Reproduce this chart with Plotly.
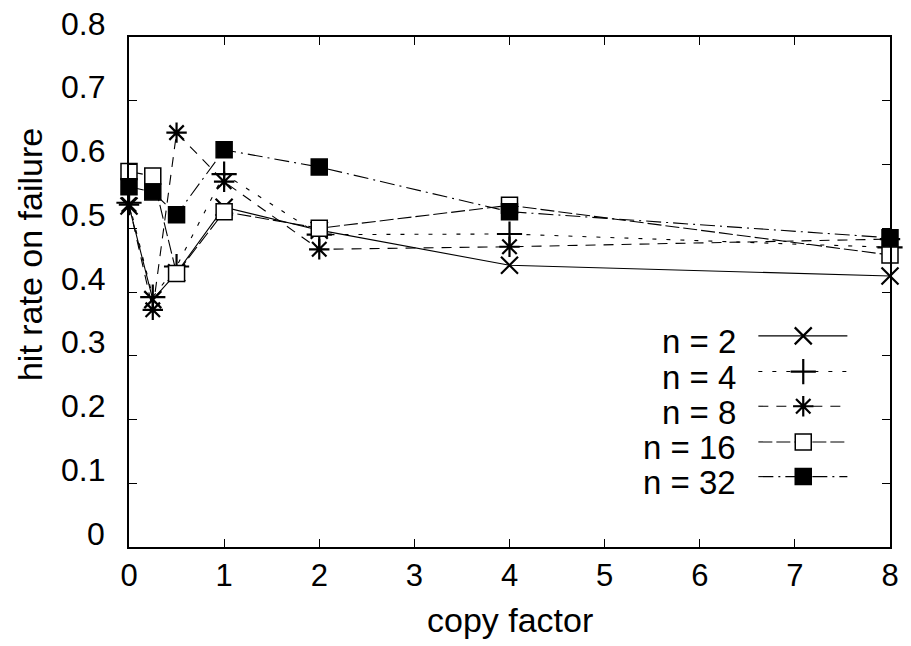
import plotly.graph_objects as go

# copy factor values at which the hit rate was measured
copy_factor = [0, 0.25, 0.5, 1, 2, 4, 8]

# hit rate on failure for each number of nodes n
hit_n2 = [0.535, 0.388, 0.430, 0.533, 0.497, 0.442, 0.425]
hit_n4 = [0.540, 0.392, 0.440, 0.585, 0.490, 0.491, 0.470]
hit_n8 = [0.537, 0.372, 0.650, 0.573, 0.467, 0.471, 0.483]
hit_n16 = [0.589, 0.582, 0.429, 0.526, 0.500, 0.536, 0.458]
hit_n32 = [0.565, 0.557, 0.521, 0.623, 0.596, 0.526, 0.485]

series_names = ["n = 2", "n = 4", "n = 8", "n = 16", "n = 32"]
series_values = [hit_n2, hit_n4, hit_n8, hit_n16, hit_n32]

x_ticks = [0, 1, 2, 3, 4, 5, 6, 7, 8]
y_ticks = [0, 0.1, 0.2, 0.3, 0.4, 0.5, 0.6, 0.7, 0.8]
y_tick_text = ["0", "0.1", "0.2", "0.3", "0.4", "0.5", "0.6", "0.7", "0.8"]

FONT = "Liberation Sans, Arial, sans-serif"

styles = [
    dict(dash="solid", symbol="x-thin", fill="black", mline=2.2, size=17),
    dict(dash="4px,10px", symbol="cross-thin", fill="black", mline=2.2, size=18),
    dict(dash="10px,8px", symbol="asterisk-open", fill="black", mline=2.2, size=17),
    dict(dash="14px,4px", symbol="square", fill="white", mline=1.5, size=16),
    dict(dash="15px,5px,2px,5px", symbol="square", fill="black", mline=1.5, size=16),
]

fig = go.Figure()

for name, vals, st in zip(series_names, series_values, styles):
    fig.add_trace(go.Scatter(
        x=copy_factor, y=vals, name=name, mode="lines+markers",
        line=dict(color="black", width=1.1, dash=st["dash"]),
        marker=dict(symbol=st["symbol"], size=st["size"], color=st["fill"],
                    line=dict(color="black", width=st["mline"])),
        cliponaxis=False, showlegend=False,
    ))

# key: right-aligned labels followed by a line sample with its marker
key_x0, key_x1, key_xm, key_text_x = 0.827, 0.944, 0.886, 0.800
key_rows = [0.414, 0.344, 0.276, 0.206, 0.138]
for name, st, ky in zip(series_names, styles, key_rows):
    fig.add_trace(go.Scatter(
        x=[key_x0, key_x1], y=[ky, ky], xaxis="x2", yaxis="y2", mode="lines",
        line=dict(color="black", width=1.1, dash=st["dash"]),
        showlegend=False, hoverinfo="skip",
    ))
    fig.add_trace(go.Scatter(
        x=[key_xm], y=[ky], xaxis="x2", yaxis="y2", mode="markers",
        marker=dict(symbol=st["symbol"], size=st["size"], color=st["fill"],
                    line=dict(color="black", width=st["mline"])),
        showlegend=False, hoverinfo="skip", cliponaxis=False,
    ))
    fig.add_annotation(
        x=key_text_x, y=ky, xref="paper", yref="paper", text=name,
        showarrow=False, xanchor="right", yanchor="middle", yshift=-6,
        font=dict(family=FONT, size=33, color="black"),
    )

# y tick labels
for v, t in zip(y_ticks, y_tick_text):
    fig.add_annotation(
        x=-0.0286, y=v, xref="paper", yref="y", text=t, showarrow=False,
        xanchor="right", yanchor="middle", yshift=13.5,
        font=dict(family=FONT, size=32, color="black"),
    )

fig.add_annotation(
    x=-0.131, y=0.573, xref="paper", yref="paper", text="hit rate on failure",
    textangle=-90, showarrow=False, xanchor="center", yanchor="middle",
    font=dict(family=FONT, size=34, color="black"),
)
fig.add_annotation(
    x=0.5, y=-0.143, xref="paper", yref="paper", text="copy factor",
    showarrow=False, xanchor="center", yanchor="middle",
    font=dict(family=FONT, size=34, color="black"),
)

axis_common = dict(
    showgrid=False, zeroline=False, showline=True, linecolor="black",
    linewidth=2, mirror="ticks", ticks="inside", ticklen=8, tickwidth=1,
    tickcolor="black",
)

fig.update_layout(
    width=911, height=646,
    margin=dict(l=129, r=13, t=37, b=99),
    paper_bgcolor="white", plot_bgcolor="white",
    font=dict(family=FONT, color="black"),
    xaxis=dict(range=[0, 8], tickvals=x_ticks, ticktext=[str(v) for v in x_ticks],
               tickfont=dict(family=FONT, size=31, color="black"), **axis_common),
    yaxis=dict(range=[0, 0.8], tickvals=y_ticks, showticklabels=False, **axis_common),
    xaxis2=dict(range=[0, 1], overlaying="x", visible=False, fixedrange=True),
    yaxis2=dict(range=[0, 1], overlaying="y", visible=False, fixedrange=True),
)

fig.write_html("out.html")
